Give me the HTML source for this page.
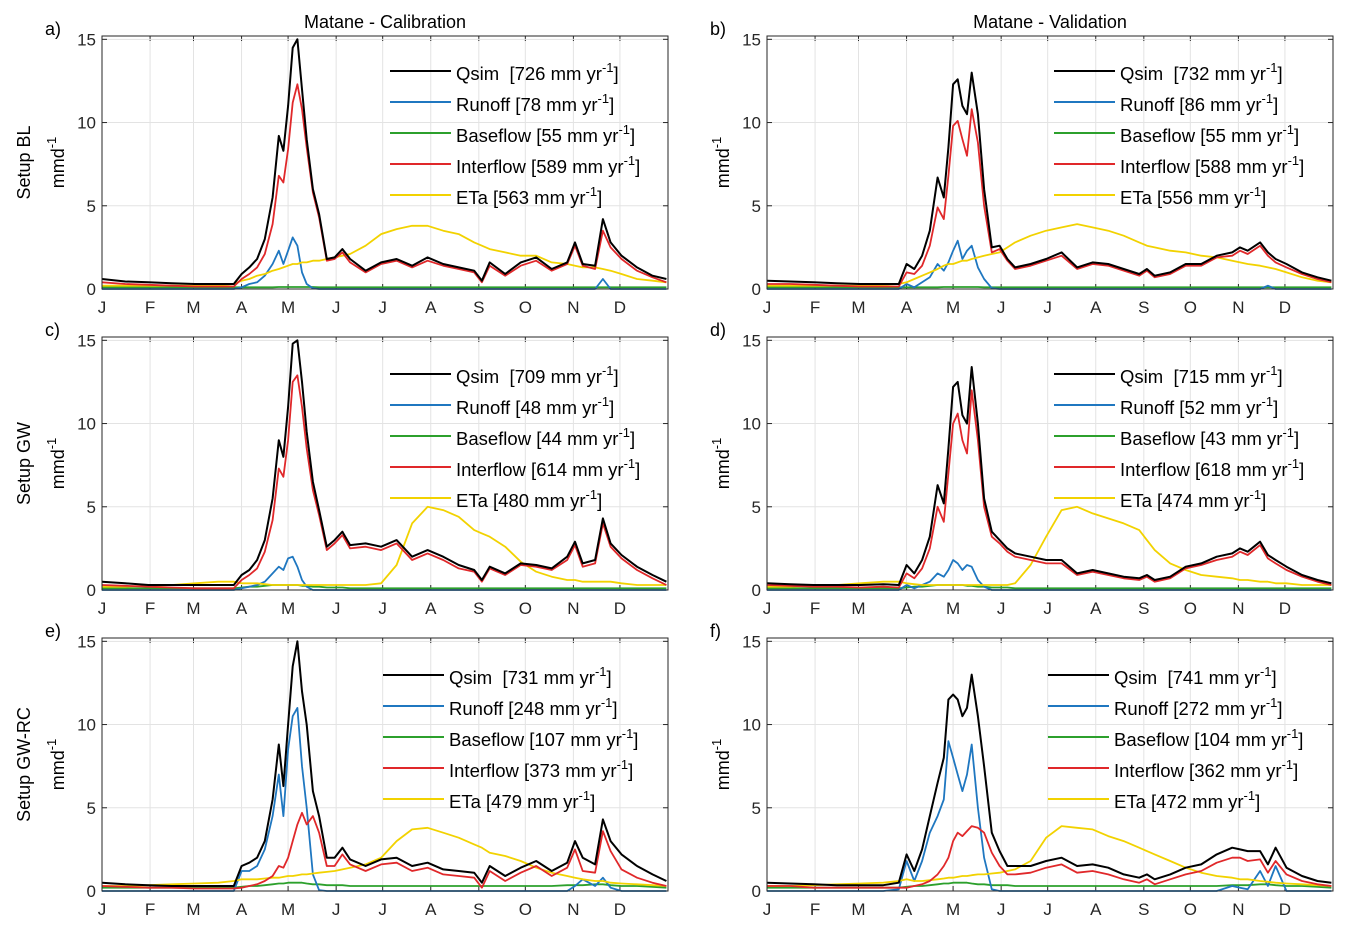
<!DOCTYPE html>
<html><head><meta charset="utf-8">
<style>
html,body{margin:0;padding:0;background:#fff;}
svg{display:block;font-family:"Liberation Sans",Arial,sans-serif;}
</style></head>
<body>
<svg id="chart" width="1362" height="930" viewBox="0 0 1362 930" xmlns="http://www.w3.org/2000/svg"></svg>
<script>
const days = [0,15,30,45,60,75,85,90,95,100,105,110,114,117,120,123,126,129,132,136,140,145,150,155,160,170,180,190,200,210,220,230,240,245,250,260,270,280,290,300,305,310,318,323,328,335,345,355,364];
const monthLabels = ["J","F","M","A","M","J","J","A","S","O","N","D"];
const monthStarts = [0,31,59,90,120,151,181,212,243,273,304,334];
const yTicks = [0,5,10,15];
const seriesNames = ["Qsim\u00a0\u00a0","Runoff ","Baseflow ","Interflow ","ETa "];

const qA=[0.6,0.45,0.4,0.35,0.3,0.3,0.3,0.9,1.3,1.8,3.0,5.5,9.2,8.3,11,14.5,15,12,9,6,4.5,1.8,1.9,2.4,1.8,1.1,1.6,1.8,1.4,1.9,1.5,1.3,1.1,0.5,1.6,0.9,1.6,1.9,1.2,1.6,2.8,1.5,1.4,4.2,2.8,2.0,1.3,0.8,0.6];
const rA=[0,0,0,0,0,0,0,0.1,0.3,0.4,0.8,1.5,2.3,1.5,2.3,3.1,2.6,1.0,0.3,0.05,0,0,0,0,0,0,0,0,0,0,0,0,0,0,0,0,0,0,0,0,0,0,0,0.6,0,0,0,0,0];
const bA=[0.1,0.1,0.1,0.1,0.1,0.1,0.1,0.1,0.1,0.1,0.1,0.1,0.12,0.12,0.12,0.12,0.12,0.12,0.12,0.12,0.1,0.1,0.1,0.1,0.1,0.1,0.1,0.1,0.1,0.1,0.1,0.1,0.1,0.1,0.1,0.1,0.1,0.1,0.1,0.1,0.1,0.1,0.1,0.1,0.1,0.1,0.1,0.1,0.1];
const iA=[0.4,0.3,0.25,0.2,0.15,0.15,0.15,0.6,0.9,1.3,2.1,3.9,6.8,6.4,8.4,11.2,12.3,10.8,8.5,5.8,4.3,1.7,1.8,2.2,1.6,1.0,1.5,1.7,1.3,1.7,1.4,1.2,1.0,0.4,1.4,0.8,1.4,1.7,1.1,1.5,2.6,1.4,1.2,3.5,2.5,1.8,1.1,0.7,0.4];
const eA=[0.2,0.2,0.2,0.2,0.2,0.2,0.3,0.5,0.6,0.8,0.9,1.1,1.2,1.3,1.4,1.5,1.5,1.6,1.6,1.7,1.7,1.8,1.9,2.0,2.1,2.6,3.3,3.6,3.8,3.8,3.5,3.3,2.8,2.6,2.4,2.2,2.0,2.0,1.6,1.5,1.4,1.3,1.3,1.2,1.1,0.9,0.6,0.5,0.4];

const qB=[0.5,0.45,0.4,0.35,0.3,0.3,0.3,1.5,1.2,2.0,3.5,6.7,5.5,8.5,12.3,12.6,11.0,10.5,13.0,10.5,6.0,2.5,2.6,1.8,1.3,1.5,1.8,2.2,1.3,1.6,1.5,1.2,0.9,1.2,0.8,1.0,1.5,1.5,2.0,2.2,2.5,2.3,2.8,2.2,1.8,1.5,1.0,0.7,0.5];
const rB=[0,0,0,0,0,0,0,0.3,0.1,0.4,0.7,1.5,1.1,1.6,2.3,2.9,1.8,2.3,2.6,1.3,0.6,0.05,0,0,0,0,0,0,0,0,0,0,0,0,0,0,0,0,0,0,0,0,0,0.2,0,0,0,0,0];
const bB=[0.1,0.1,0.1,0.1,0.1,0.1,0.1,0.1,0.1,0.1,0.1,0.1,0.12,0.12,0.12,0.12,0.12,0.12,0.12,0.12,0.1,0.1,0.1,0.1,0.1,0.1,0.1,0.1,0.1,0.1,0.1,0.1,0.1,0.1,0.1,0.1,0.1,0.1,0.1,0.1,0.1,0.1,0.1,0.1,0.1,0.1,0.1,0.1,0.1];
const iB=[0.3,0.3,0.25,0.2,0.15,0.15,0.15,1.0,0.9,1.4,2.6,4.9,4.2,6.8,9.8,10.1,9.0,8.0,10.8,8.8,5.0,2.2,2.4,1.7,1.2,1.4,1.7,2.0,1.2,1.5,1.4,1.1,0.8,1.1,0.7,0.9,1.4,1.4,1.9,2.0,2.3,2.1,2.6,2.0,1.6,1.3,0.9,0.6,0.4];
const eB=[0.2,0.2,0.2,0.2,0.2,0.25,0.3,0.4,0.6,0.8,1.0,1.2,1.4,1.5,1.5,1.6,1.7,1.7,1.8,1.9,2.0,2.1,2.2,2.5,2.8,3.2,3.5,3.7,3.9,3.7,3.5,3.2,2.8,2.6,2.5,2.3,2.2,2.0,1.9,1.7,1.6,1.5,1.4,1.3,1.2,1.0,0.7,0.5,0.4];

const qC=[0.5,0.4,0.3,0.3,0.3,0.3,0.3,0.9,1.2,1.8,3.0,5.5,9.0,8.0,11,14.8,15,12.5,9.5,6.5,4.8,2.6,3.0,3.5,2.7,2.8,2.6,3.0,2.0,2.4,2.0,1.5,1.2,0.6,1.4,1.0,1.6,1.5,1.3,2.0,2.9,1.6,1.8,4.3,2.8,2.1,1.4,0.9,0.5];
const rC=[0,0,0,0,0,0,0,0.1,0.2,0.3,0.5,1.0,1.4,1.2,1.9,2.0,1.4,0.6,0.2,0,0,0,0,0,0,0,0,0,0,0,0,0,0,0,0,0,0,0,0,0,0,0,0,0,0,0,0,0,0];
const bC=[0.1,0.1,0.1,0.1,0.1,0.1,0.1,0.15,0.2,0.2,0.25,0.3,0.3,0.3,0.3,0.3,0.3,0.25,0.25,0.2,0.2,0.15,0.15,0.15,0.1,0.1,0.1,0.1,0.1,0.1,0.1,0.1,0.1,0.1,0.1,0.1,0.1,0.1,0.1,0.1,0.1,0.1,0.1,0.1,0.1,0.1,0.1,0.1,0.1];
const iC=[0.3,0.25,0.2,0.15,0.1,0.1,0.1,0.6,0.9,1.3,2.3,4.2,7.3,6.8,9.0,12.5,12.9,11.0,8.5,6.0,4.5,2.4,2.8,3.3,2.5,2.6,2.4,2.8,1.8,2.2,1.8,1.3,1.1,0.5,1.3,0.9,1.5,1.4,1.2,1.8,2.7,1.4,1.6,4.0,2.6,1.9,1.2,0.7,0.3];
const eC=[0.2,0.2,0.25,0.3,0.4,0.5,0.5,0.4,0.4,0.4,0.35,0.3,0.3,0.3,0.3,0.3,0.3,0.3,0.3,0.3,0.3,0.3,0.3,0.3,0.3,0.3,0.4,1.5,4.0,5.0,4.8,4.4,3.6,3.4,3.2,2.6,1.7,1.1,0.8,0.6,0.6,0.5,0.5,0.5,0.5,0.4,0.3,0.3,0.3];

const qD=[0.4,0.35,0.3,0.3,0.3,0.35,0.3,1.5,1.0,1.8,3.2,6.3,5.2,8.5,12.2,12.5,10.5,10.0,13.4,10.0,5.5,3.5,3.0,2.5,2.2,2.0,1.8,1.8,1.0,1.2,1.0,0.8,0.7,0.9,0.6,0.8,1.4,1.6,2.0,2.2,2.5,2.3,2.9,2.1,1.8,1.4,0.9,0.6,0.4];
const rD=[0,0,0,0,0,0,0,0.3,0.1,0.3,0.5,1.0,0.8,1.2,1.8,1.6,1.2,1.5,1.4,0.6,0.2,0,0,0,0,0,0,0,0,0,0,0,0,0,0,0,0,0,0,0,0,0,0,0,0,0,0,0,0];
const bD=[0.1,0.1,0.1,0.1,0.1,0.1,0.1,0.15,0.2,0.2,0.25,0.3,0.3,0.3,0.3,0.3,0.3,0.25,0.25,0.2,0.2,0.15,0.15,0.15,0.1,0.1,0.1,0.1,0.1,0.1,0.1,0.1,0.1,0.1,0.1,0.1,0.1,0.1,0.1,0.1,0.1,0.1,0.1,0.1,0.1,0.1,0.1,0.1,0.1];
const iD=[0.3,0.25,0.2,0.2,0.15,0.2,0.15,1.0,0.7,1.3,2.5,5.0,4.1,7.0,10.0,10.6,9.0,8.2,12.0,9.0,5.0,3.2,2.8,2.3,2.0,1.8,1.6,1.6,0.9,1.1,0.9,0.7,0.6,0.8,0.5,0.7,1.3,1.5,1.8,2.0,2.3,2.1,2.7,1.9,1.6,1.2,0.8,0.5,0.3];
const eD=[0.2,0.2,0.25,0.3,0.4,0.5,0.5,0.4,0.35,0.3,0.3,0.3,0.3,0.3,0.3,0.3,0.3,0.3,0.3,0.3,0.3,0.3,0.3,0.3,0.4,1.5,3.2,4.8,5.0,4.6,4.3,4.0,3.6,3.0,2.4,1.6,1.2,0.9,0.8,0.7,0.6,0.6,0.5,0.5,0.4,0.4,0.3,0.3,0.3];

const qE=[0.5,0.4,0.35,0.3,0.3,0.3,0.3,1.5,1.7,2.0,3.0,5.5,8.8,6.3,10,13.5,15,12,10,6,4.5,2.0,2.0,2.6,1.9,1.5,1.9,2.0,1.5,1.7,1.3,1.2,1.1,0.5,1.5,0.9,1.4,1.8,1.2,1.7,3.0,2.0,1.6,4.3,3.0,2.2,1.5,1.0,0.6];
const rE=[0,0,0,0,0,0,0,1.2,1.2,1.5,2.5,4.5,7.0,4.5,8.5,10.5,11.0,7.5,5.0,1.0,0.05,0,0,0,0,0,0,0,0,0,0,0,0,0,0,0,0,0,0,0,0.3,0.7,0.3,0.8,0.2,0,0,0,0];
const bE=[0.2,0.2,0.2,0.2,0.2,0.2,0.2,0.25,0.3,0.3,0.35,0.4,0.45,0.45,0.5,0.5,0.5,0.5,0.45,0.4,0.4,0.35,0.35,0.35,0.3,0.3,0.3,0.3,0.3,0.3,0.3,0.3,0.3,0.3,0.3,0.3,0.3,0.3,0.3,0.35,0.35,0.35,0.4,0.4,0.35,0.3,0.3,0.25,0.2];
const iE=[0.3,0.25,0.2,0.2,0.15,0.15,0.15,0.2,0.3,0.4,0.6,0.9,1.5,1.4,2.0,3.0,4.0,4.7,4.0,4.5,3.5,1.5,1.5,2.2,1.6,1.2,1.6,1.7,1.2,1.4,1.0,0.9,0.8,0.2,1.2,0.6,1.1,1.5,0.9,1.4,2.5,1.2,1.1,3.6,2.4,1.3,0.8,0.5,0.3];
const eE=[0.3,0.3,0.35,0.4,0.45,0.5,0.6,0.7,0.7,0.7,0.75,0.8,0.8,0.85,0.9,0.9,0.95,1.0,1.0,1.05,1.1,1.15,1.2,1.3,1.4,1.6,2.0,3.0,3.7,3.8,3.5,3.2,2.8,2.6,2.3,2.1,1.8,1.4,1.1,0.9,0.8,0.7,0.6,0.6,0.5,0.45,0.4,0.35,0.3];

const qF=[0.5,0.45,0.4,0.35,0.35,0.35,0.5,2.2,1.2,2.5,4.5,6.5,8.0,11.5,11.8,11.5,10.5,11.0,13.0,10.5,7.5,3.5,2.4,1.5,1.5,1.5,1.8,2.0,1.5,1.6,1.4,1.0,0.8,1.0,0.7,1.0,1.4,1.6,2.2,2.6,2.5,2.4,2.4,1.6,2.6,1.4,0.9,0.6,0.5];
const rF=[0,0,0,0,0,0,0.1,1.8,0.6,1.8,3.5,4.5,5.5,9.0,8.0,7.0,6.0,7.0,8.8,5.0,2.0,0.1,0,0,0,0,0,0,0,0,0,0,0,0,0,0,0,0,0,0.3,0.2,0.1,1.2,0.3,1.5,0,0,0,0];
const bF=[0.2,0.2,0.2,0.2,0.2,0.2,0.2,0.25,0.3,0.3,0.35,0.4,0.45,0.45,0.5,0.5,0.5,0.5,0.45,0.4,0.4,0.35,0.35,0.35,0.3,0.3,0.3,0.3,0.3,0.3,0.3,0.3,0.3,0.3,0.3,0.3,0.3,0.3,0.3,0.35,0.35,0.35,0.4,0.4,0.35,0.3,0.3,0.25,0.2];
const iF=[0.3,0.3,0.2,0.2,0.2,0.2,0.2,0.2,0.3,0.4,0.6,1.0,1.5,2.0,3.0,3.5,3.3,3.6,3.9,3.8,3.5,2.3,1.5,1.0,1.0,1.1,1.4,1.6,1.1,1.2,1.0,0.7,0.5,0.7,0.4,0.7,1.0,1.2,1.7,2.0,2.0,1.8,1.9,1.1,1.8,1.0,0.6,0.4,0.3];
const eF=[0.3,0.3,0.35,0.4,0.45,0.5,0.6,0.7,0.6,0.6,0.65,0.7,0.75,0.8,0.8,0.85,0.9,0.9,0.95,1.0,1.0,1.05,1.1,1.2,1.3,1.8,3.2,3.9,3.8,3.7,3.3,3.0,2.6,2.4,2.2,1.8,1.4,1.1,0.9,0.8,0.7,0.7,0.6,0.55,0.5,0.45,0.4,0.35,0.3];

const legendA=["726","78","55","589","563"];
const legendB=["732","86","55","588","556"];
const legendC=["709","48","44","614","480"];
const legendD=["715","52","43","618","474"];
const legendE=["731","248","107","373","479"];
const legendF=["741","272","104","362","472"];

const NS="http://www.w3.org/2000/svg";
const svg=document.getElementById("chart");
const colors=["#000000","#1f77c0","#2ca02c","#e0282a","#f2d200"];
function mk(tag,attrs,parent){const e=document.createElementNS(NS,tag);for(const k in attrs)e.setAttribute(k,attrs[k]);(parent||svg).appendChild(e);return e;}

const panels=[
 {id:"a",L:102,T:36,B:289,S:[qA,rA,bA,iA,eA],leg:legendA,lx:390,ly:73,title:"Matane - Calibration",ylab:"Setup BL"},
 {id:"b",L:767,T:36,B:289,S:[qB,rB,bB,iB,eB],leg:legendB,lx:1054,ly:73,title:"Matane - Validation"},
 {id:"c",L:102,T:337,B:590,S:[qC,rC,bC,iC,eC],leg:legendC,lx:390,ly:376,ylab:"Setup GW"},
 {id:"d",L:767,T:337,B:590,S:[qD,rD,bD,iD,eD],leg:legendD,lx:1054,ly:376},
 {id:"e",L:102,T:638,B:891,S:[qE,rE,bE,iE,eE],leg:legendE,lx:383,ly:677,ylab:"Setup GW-RC"},
 {id:"f",L:767,T:638,B:891,S:[qF,rF,bF,iF,eF],leg:legendF,lx:1048,ly:677}
];
const W=566, YMAX=15.2;

panels.forEach(p=>{
  const g=mk("g",{});
  
  
  const R=p.L+W;
  const xs=d=>p.L+d/365*W;
  const ys=v=>p.B-v/YMAX*(p.B-p.T);
  monthStarts.forEach((m,i)=>{
    const x=xs(m);
    if(i>0){const gl=mk("line",{x1:x,x2:x,y1:p.T,y2:p.B,stroke:"#e3e3e3","stroke-width":1},g);
      }
    mk("line",{x1:x,x2:x,y1:p.B,y2:p.B-5,stroke:"#262626"},g);
    mk("line",{x1:x,x2:x,y1:p.T,y2:p.T+5,stroke:"#262626"},g);
    const t=mk("text",{x:x,y:p.B+24,"font-size":17,"text-anchor":"middle",fill:"#262626"},g);
    t.textContent=monthLabels[i];
    
  });
  yTicks.forEach(v=>{
    const y=ys(v);
    if(v>0){const gl=mk("line",{x1:p.L,x2:R,y1:y,y2:y,stroke:"#e3e3e3"},g);
      }
    mk("line",{x1:p.L,x2:p.L+5,y1:y,y2:y,stroke:"#262626"},g);
    mk("line",{x1:R,x2:R-5,y1:y,y2:y,stroke:"#262626"},g);
    const t=mk("text",{x:p.L-6,y:y+6,"font-size":17,"text-anchor":"end",fill:"#262626"},g);
    t.textContent=v;
    
  });
  [2,1,4,3,0].forEach(si=>{
    const vals=p.S[si];
    const d=days.map((dd,k)=>(k?"L":"M")+xs(dd).toFixed(1)+","+ys(vals[k]).toFixed(1)).join("");
    const path=mk("path",{d:d,fill:"none",stroke:colors[si],"stroke-width":si===0?2:1.8,"stroke-linejoin":"round"},g);
    
    
  });
  const box=mk("rect",{x:p.L,y:p.T,width:W,height:p.B-p.T,fill:"none",stroke:"#262626","stroke-width":1},g);
  
  seriesNames.forEach((n,i)=>{
    const y=p.ly+i*31;
    const lg=mk("g",{},g);
    
    
    mk("line",{x1:p.lx,x2:p.lx+61,y1:y-2,y2:y-2,stroke:colors[i],"stroke-width":2},lg);
    const t=mk("text",{x:p.lx+66,y:y+7,"font-size":18.5,fill:"#000"},lg);
    t.textContent=n+"["+p.leg[i]+" mm yr";
    const s=mk("tspan",{"font-size":13,dy:-8},t);s.textContent="-1";
    const s2=mk("tspan",{dy:8},t);s2.textContent="]";
  });
  const lt=mk("text",{x:p.L-57,y:p.T-1,"font-size":18,fill:"#000"},g);
  lt.textContent=p.id+")";
  
  const mid=(p.T+p.B)/2;
  const ux=p.L-38;
  const ul=mk("text",{x:ux,y:mid,"font-size":18,"text-anchor":"middle",transform:"rotate(-90 "+ux+" "+mid+")",fill:"#000"},g);
  ul.textContent="mmd";
  const us=mk("tspan",{"font-size":13,dy:-8},ul);us.textContent="-1";
  
  if(p.ylab){
    const sx=p.L-72;
    const yl=mk("text",{x:sx,y:mid,"font-size":18,"text-anchor":"middle",transform:"rotate(-90 "+sx+" "+mid+")",fill:"#000"},g);
    yl.textContent=p.ylab;
    
  }
  if(p.title){
    const tt=mk("text",{x:p.L+W/2,y:28,"font-size":18,"text-anchor":"middle",fill:"#000"},g);
    tt.textContent=p.title;
    
  }
});
</script>
</body></html>
